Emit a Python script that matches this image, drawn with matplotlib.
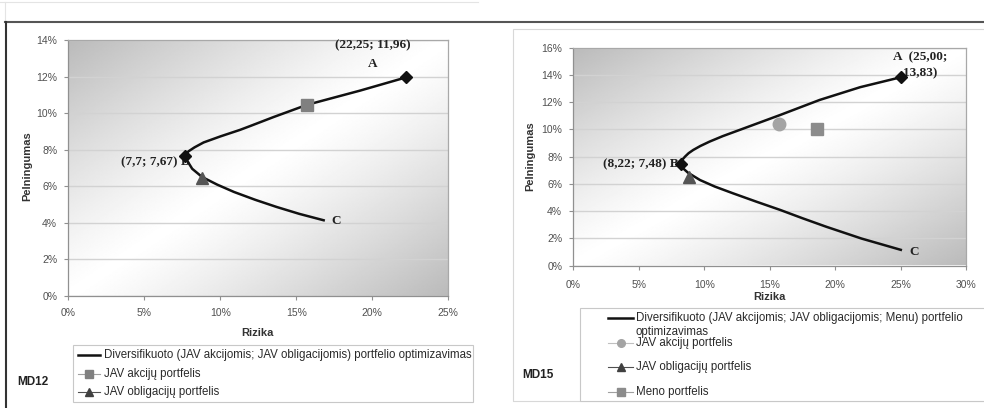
import numpy as np
import matplotlib
matplotlib.use("Agg")
import matplotlib.pyplot as plt
from matplotlib.lines import Line2D
from matplotlib.patches import Rectangle

plt.rcParams['font.family'] = ['Liberation Sans', 'DejaVu Sans']

# MD12: two-asset frontier (risk %, return %), from A through B down to C
md12_risk = [22.25, 19.2, 15.7, 13.5, 12.0, 11.3, 10.0, 8.9, 8.3, 7.9, 7.7,
             7.8, 8.15, 8.8, 9.8, 10.9, 12.3, 13.7, 15.2, 16.8]
md12_ret = [11.96, 11.23, 10.45, 9.78, 9.3, 9.08, 8.72, 8.39, 8.12, 7.9, 7.67,
            7.42, 6.95, 6.5, 6.08, 5.68, 5.25, 4.86, 4.48, 4.13]
md12_a = (22.25, 11.96)
md12_b = (7.7, 7.67)
md12_stocks = (15.7, 10.45)
md12_bonds = (8.8, 6.45)

# MD15: three-asset frontier
md15_risk = [25.0, 21.9, 18.8, 15.8, 12.7, 11.4, 10.4, 9.7, 9.16, 8.8, 8.53, 8.3, 8.22,
             8.4, 8.75, 9.67, 10.8, 12.2, 14.0, 15.8, 17.5, 19.3, 22.0, 25.0]
md15_ret = [13.83, 13.1, 12.16, 11.06, 9.96, 9.5, 9.1, 8.78, 8.49, 8.25, 8.0, 7.75, 7.48,
            7.12, 6.82, 6.28, 5.8, 5.3, 4.68, 4.08, 3.47, 2.85, 1.98, 1.15]
md15_a = (25.00, 13.83)
md15_b = (8.22, 7.48)
md15_stocks = (15.7, 10.4)
md15_bonds = (8.8, 6.48)
md15_art = (18.6, 10.0)

md12_xticks = [0, 5, 10, 15, 20, 25]
md12_yticks = [0, 2, 4, 6, 8, 10, 12, 14]
md15_xticks = [0, 5, 10, 15, 20, 25, 30]
md15_yticks = [0, 2, 4, 6, 8, 10, 12, 14, 16]

W, H = 984, 408
fig = plt.figure(figsize=(W / 100, H / 100), dpi=100)
fig.patch.set_facecolor('white')


def fx(x):
    return x / W


def fy(y):
    return 1 - y / H


def panel(rect, xticks, yticks, label_pad):
    ax = fig.add_axes(rect)
    # grey diagonal shading of the plot area, light band from lower left to upper right
    u, v = np.meshgrid(np.linspace(0, 1, 300), np.linspace(1, 0, 200))
    t = (u + (1 - v)) / 2
    shade = 1 - 0.27 * np.abs(2 * t - 1) ** 1.2
    ax.imshow(shade, extent=[0, 1, 0, 1], transform=ax.transAxes, aspect='auto',
              cmap='gray', vmin=0, vmax=1, zorder=0, interpolation='bilinear')
    ax.set_xlim(xticks[0], xticks[-1])
    ax.set_ylim(yticks[0], yticks[-1])
    ax.set_xticks(xticks)
    ax.set_yticks(yticks)
    ax.set_xticklabels([f"{v}%" for v in xticks])
    ax.set_yticklabels([f"{v}%" for v in yticks])
    ax.yaxis.grid(True, color='#d2d2d2', lw=1)
    ax.set_axisbelow(True)
    for s in ax.spines.values():
        s.set_color('#a8a8a8')
        s.set_linewidth(0.9)
    ax.spines['left'].set_color('#909090')
    ax.spines['bottom'].set_color('#909090')
    ax.tick_params(axis='both', length=3, color='#909090', labelsize=7.5, labelcolor='#505050')
    ax.tick_params(axis='y', pad=5)
    ax.tick_params(axis='x', pad=label_pad)
    ax.set_xlabel('Rizika', fontsize=8, fontweight='bold', color='#333333')
    ax.set_ylabel('Pelningumas', fontsize=8, fontweight='bold', color='#333333')
    return ax


serif = dict(family=['Liberation Serif', 'DejaVu Serif'], fontweight='bold', fontsize=9.5, color='#222222')

# left chart
ax1 = panel([fx(68.3), fy(295.7), 380 / W, 255.7 / H], md12_xticks, md12_yticks, 6)
ax1.xaxis.set_label_coords(0.499, -0.126)
ax1.yaxis.set_label_coords(-0.0955, 0.507)
ax1.plot(md12_risk, md12_ret, color='#111111', lw=1.8, solid_joinstyle='round', zorder=3)
ax1.plot(*md12_stocks, marker='s', ms=9, color='#808080', zorder=4)
ax1.plot(*md12_bonds, marker='^', ms=9, color='#555555', zorder=4)
ax1.annotate('(7,7; 7,67) B', md12_b, xytext=(3, -5), textcoords='offset points',
             ha='right', va='center', zorder=2, **serif)
ax1.plot(*zip(md12_a, md12_b), ls='none', marker='D', ms=6.5, color='#111111', zorder=5)
ax1.annotate('(22,25; 11,96)', md12_a, xytext=(-24.3, 22.8), textcoords='offset points',
             ha='center', va='center', **serif)
ax1.annotate('A', md12_a, xytext=(-24.3, 9.9), textcoords='offset points',
             ha='center', va='center', **serif)
ax1.annotate('C', (md12_risk[-1], md12_ret[-1]), xytext=(5.5, -0.7), textcoords='offset points',
             ha='left', va='center', **serif)

# right chart
ax2 = panel([fx(573.3), fy(265.5), 393 / W, 217.8 / H], md15_xticks, md15_yticks, 7.5)
ax2.xaxis.set_label_coords(0.5, -0.122)
ax2.yaxis.set_label_coords(-0.0975, 0.5)
ax2.plot(md15_risk, md15_ret, color='#111111', lw=1.8, solid_joinstyle='round', zorder=3)
ax2.plot(*md15_stocks, marker='o', ms=9, color='#a4a4a4', zorder=4)
ax2.plot(*md15_art, marker='s', ms=9, color='#8c8c8c', zorder=4)
ax2.plot(*md15_bonds, marker='^', ms=9, color='#555555', zorder=4)
ax2.annotate('(8,22; 7,48) B', md15_b, xytext=(-1.5, -0.5), textcoords='offset points',
             ha='right', va='center', zorder=2, **serif)
ax2.annotate('A  (25,00;\n13,83)', md15_a, xytext=(13.9, 8.8), textcoords='offset points',
             ha='center', va='center', linespacing=1.45, zorder=2, **serif)
ax2.plot(*zip(md15_a, md15_b), ls='none', marker='D', ms=6.5, color='#111111', zorder=5)
ax2.annotate('C', (md15_risk[-1], md15_ret[-1]), xytext=(6, -1.5), textcoords='offset points',
             ha='left', va='center', **serif)


def fig_line(x0, y0, x1, y1, **kw):
    fig.add_artist(Line2D([fx(x0), fx(x1)], [fy(y0), fy(y1)], transform=fig.transFigure, **kw))


def legend_row(x0, x1, y, text_x, label, line_color, lw, marker=None, mcolor=None, fs=8.3):
    fig_line(x0, y, x1, y, color=line_color, lw=lw)
    if marker:
        fig.add_artist(Line2D([fx((x0 + x1) / 2)], [fy(y)], transform=fig.transFigure,
                              marker=marker, ms=5.5, color=mcolor, ls='none'))
    fig.text(fx(text_x), fy(y), label, ha='left', va='center', fontsize=fs, color='#2a2a2a')


# page frame lines
fig_line(0, 2, 478, 2, color='#e4e4e4', lw=0.8)
fig_line(5, 2, 5, 22, color='#e4e4e4', lw=0.8)
fig_line(5, 22, 984, 22, color='#555555', lw=1.5)
fig_line(6, 22, 6, 408, color='#333333', lw=1.5)
fig.add_artist(Rectangle((fx(513), fy(401)), fx(990) - fx(513), fy(29) - fy(401),
                         transform=fig.transFigure, fill=False, ec='#d8d8d8', lw=0.8))

# left legend
fig.add_artist(Rectangle((fx(73), fy(402)), fx(473) - fx(73), fy(345) - fy(402),
                         transform=fig.transFigure, fc='white', ec='#c8c8c8', lw=0.8))
legend_row(78, 100, 355, 104, 'Diversifikuoto (JAV akcijomis; JAV obligacijomis) portfelio optimizavimas',
           '#111111', 1.8)
legend_row(78, 100, 374, 104, 'JAV akcijų portfelis', '#a0a0a0', 0.8, 's', '#808080')
legend_row(78, 100, 392, 104, 'JAV obligacijų portfelis', '#505050', 0.8, '^', '#404040')
fig.text(fx(17), fy(382), 'MD12', ha='left', va='center', fontsize=8.5, fontweight='bold', color='#222222')

# right legend
fig.add_artist(Rectangle((fx(580), fy(401)), fx(995) - fx(580), fy(308) - fy(401),
                         transform=fig.transFigure, fc='white', ec='#c8c8c8', lw=0.8))
legend_row(608, 633, 318, 636, 'Diversifikuoto (JAV akcijomis; JAV obligacijomis; Menu) portfelio',
           '#111111', 1.8)
fig.text(fx(636), fy(332), 'optimizavimas', ha='left', va='center', fontsize=8.3, color='#2a2a2a')
legend_row(608, 633, 343, 636, 'JAV akcijų portfelis', '#c0c0c0', 0.8, 'o', '#a4a4a4')
legend_row(608, 633, 367, 636, 'JAV obligacijų portfelis', '#505050', 0.8, '^', '#404040')
legend_row(608, 633, 392, 636, 'Meno portfelis', '#a0a0a0', 0.8, 's', '#8c8c8c')
fig.text(fx(522), fy(375), 'MD15', ha='left', va='center', fontsize=8.5, fontweight='bold', color='#222222')

fig.savefig('out.png', dpi=100)
